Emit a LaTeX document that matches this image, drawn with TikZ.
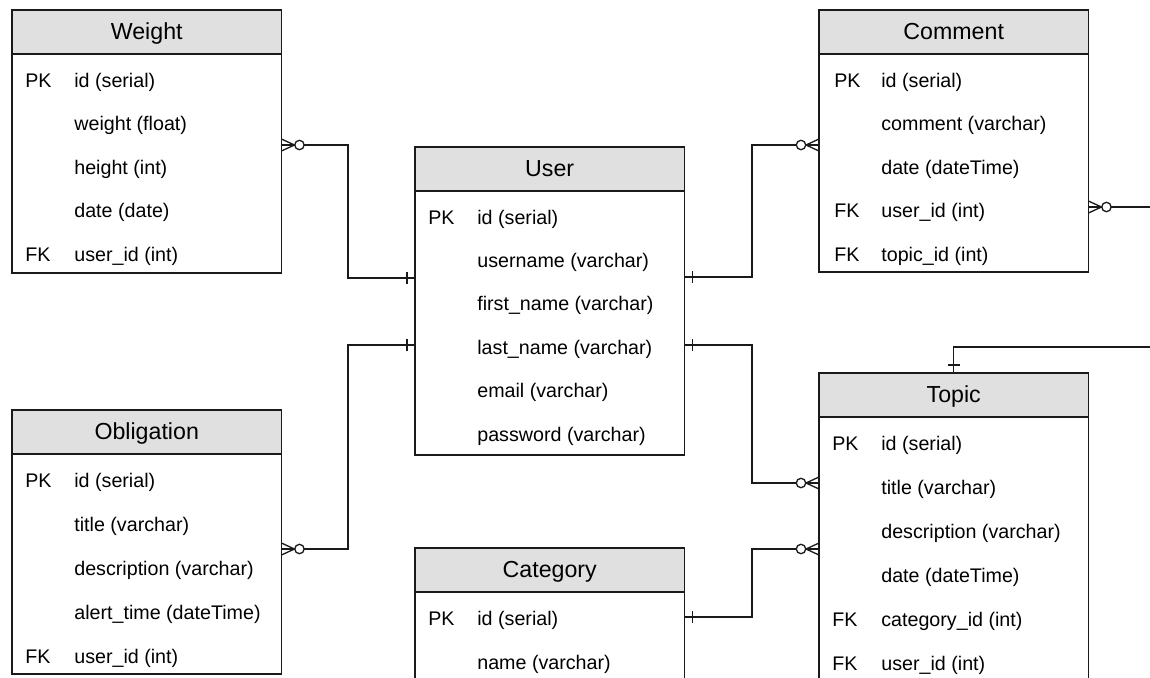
\documentclass[tikz,border=0pt]{standalone}
\usepackage{fontspec}
\setmainfont{Liberation Sans}
\usetikzlibrary{positioning}
\definecolor{headgray}{HTML}{E0E0E0}
\definecolor{edgegray}{HTML}{1A1A1A}
\tikzset{
  thead/.style={draw=edgegray, fill=headgray, line width=0.75pt, minimum width=5.39cm, minimum height=0.88cm, inner sep=0pt, outer sep=0pt, text height=0.9em, text depth=0pt, anchor=north west, font=\fontsize{13.2}{15}\selectfont},
  tbody/.style={draw=edgegray, fill=white, line width=0.75pt, minimum width=5.39cm, inner sep=0pt, outer sep=0pt},
  pkfk/.style={anchor=base west, inner sep=0pt, font=\fontsize{11.2}{13}\selectfont},
  fld/.style={pkfk},
  rel/.style={draw=edgegray, line width=0.75pt},
  zeromany/.pic={\draw[rel] (0,-6) -- (13,0) -- (0,6); \draw[rel, fill=white] (18,0) circle[radius=0.094cm];},
  onebar/.pic={\draw[rel] (8,-6) -- (8,6);}
}
\begin{document}
\begin{tikzpicture}[x=0.02cm, y=-0.02cm]
\useasboundingbox (0,0) rectangle (1150,677);
\clip (0,0) rectangle (1150,677);

% tables
\node[thead] (weight) at (12,10) {Weight};
\node[tbody, minimum height=4.38cm, below=0pt of weight] (weightb) {};
\foreach \k/\f [count=\i from 0] in {PK/id (serial), /weight (float), /height (int), /date (date), FK/user\_id (int)}
{ \node[pkfk] (weight-k\i) at (25,{87+43.6*\i}) {\k}; \node[fld] (weight-\i) at (74,{87+43.6*\i}) {\f}; }

\node[thead] (user) at (415,147) {User};
\node[tbody, minimum height=5.28cm, below=0pt of user] (userb) {};
\foreach \k/\f [count=\i from 0] in {PK/id (serial), /username (varchar), /first\_name (varchar), /last\_name (varchar), /email (varchar), /password (varchar)}
{ \node[pkfk] (user-k\i) at (428,{224+43.4*\i}) {\k}; \node[fld] (user-\i) at (477,{224+43.4*\i}) {\f}; }

\node[thead] (comment) at (819,10) {Comment};
\node[tbody, minimum height=4.36cm, below=0pt of comment] (commentb) {};
\foreach \k/\f [count=\i from 0] in {PK/id (serial), /comment (varchar), /date (dateTime), FK/user\_id (int), FK/topic\_id (int)}
{ \node[pkfk] (comment-k\i) at (834,{87+43.6*\i}) {\k}; \node[fld] (comment-\i) at (881,{87+43.6*\i}) {\f}; }

\node[thead] (obligation) at (12,410) {Obligation};
\node[tbody, minimum height=4.4cm, below=0pt of obligation] (obligationb) {};
\foreach \k/\f [count=\i from 0] in {PK/id (serial), /title (varchar), /description (varchar), /alert\_time (dateTime), FK/user\_id (int)}
{ \node[pkfk] (obligation-k\i) at (25,{487+44*\i}) {\k}; \node[fld] (obligation-\i) at (74,{487+44*\i}) {\f}; }

\node[thead] (category) at (415,548) {Category};
\node[tbody, minimum height=3cm, below=0pt of category] (categoryb) {};
\foreach \k/\f [count=\i from 0] in {PK/id (serial), /name (varchar)}
{ \node[pkfk] (category-k\i) at (428,{625+44*\i}) {\k}; \node[fld] (category-\i) at (477,{625+44*\i}) {\f}; }

\node[thead] (topic) at (819,373) {Topic};
\node[tbody, minimum height=6cm, below=0pt of topic] (topicb) {};
\foreach \k/\f [count=\i from 0] in {PK/id (serial), /title (varchar), /description (varchar), /date (dateTime), FK/category\_id (int), FK/user\_id (int)}
{ \node[pkfk] (topic-k\i) at (832,{450+44*\i}) {\k}; \node[fld] (topic-\i) at (881,{450+44*\i}) {\f}; }

% relations
\draw[rel] (weightb.east |- 0,145) -| (348,278) -- (userb.west |- 0,278);
\pic at (weightb.east |- 0,145) {zeromany};
\pic[rotate=180] at (userb.west |- 0,278) {onebar};

\draw[rel] (obligationb.east |- 0,549) -| (348,345) -- (userb.west |- 0,345);
\pic at (obligationb.east |- 0,549) {zeromany};
\pic[rotate=180] at (userb.west |- 0,345) {onebar};

\draw[rel] (userb.east |- 0,277) -| (752,145) -- (commentb.west |- 0,145);
\pic at (userb.east |- 0,277) {onebar};
\pic[rotate=180] at (commentb.west |- 0,145) {zeromany};

\draw[rel] (userb.east |- 0,345) -| (752,483) -- (topicb.west |- 0,483);
\pic at (userb.east |- 0,345) {onebar};
\pic[rotate=180] at (topicb.west |- 0,483) {zeromany};

\draw[rel] (categoryb.east |- 0,617) -| (752,549) -- (topicb.west |- 0,549);
\pic at (categoryb.east |- 0,617) {onebar};
\pic[rotate=180] at (topicb.west |- 0,549) {zeromany};

\draw[rel] (commentb.east |- 0,207) -| (1175,347) -| (topic.north);
\pic at (commentb.east |- 0,207) {zeromany};
\pic[rotate=90] at (topic.north) {onebar};
\end{tikzpicture}
\end{document}
